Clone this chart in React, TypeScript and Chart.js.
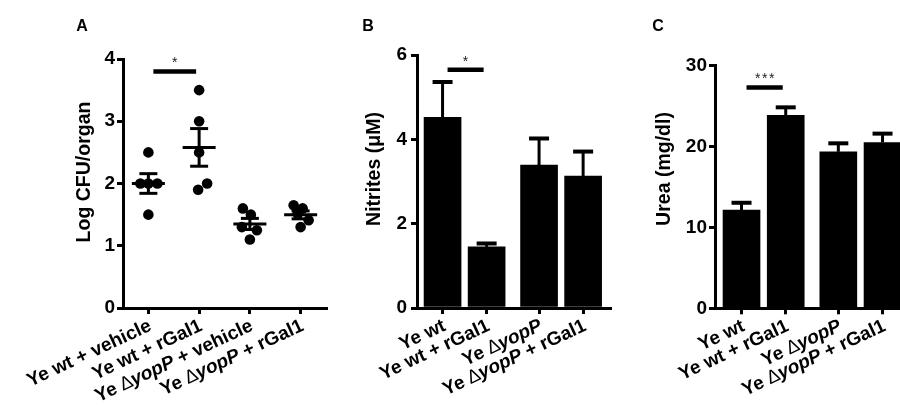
import React, { useEffect, useRef } from 'react';
import { Chart, registerables } from 'chart.js';

Chart.register(...registerables);

const FONT = "'Liberation Sans', Arial, Helvetica, sans-serif";

// ---------- Panel A : Log CFU/organ (individual animals) ----------
const cfuCategories = ['Ye wt + vehicle', 'Ye wt + rGal1', 'Ye \u2206yopP + vehicle', 'Ye \u2206yopP + rGal1'];
const cfuWtVehicle = [2.5, 2.0, 2.0, 2.0, 1.5];
const cfuWtRGal1 = [3.5, 3.0, 2.5, 2.0, 1.9];
const cfuYopPVehicle = [1.6, 1.5, 1.3, 1.25, 1.1];
const cfuYopPRGal1 = [1.65, 1.6, 1.52, 1.41, 1.3];
const cfuTicks = [0, 1, 2, 3, 4];
const cfuSignificance = { from: 0, to: 1, value: 3.8, label: '*' };

// ---------- Panel B : Nitrites ----------
const nitriteCategories = ['Ye wt', 'Ye wt + rGal1', 'Ye \u2206yopP', 'Ye \u2206yopP + rGal1'];
const nitriteMeans = [4.52, 1.45, 3.39, 3.13];
const nitriteErrors = [0.84, 0.08, 0.63, 0.58];
const nitriteTicks = [0, 2, 4, 6];
const nitriteSignificance = { from: 0, to: 1, value: 5.65, label: '*' };

// ---------- Panel C : Urea ----------
const ureaCategories = ['Ye wt', 'Ye wt + rGal1', 'Ye \u2206yopP', 'Ye \u2206yopP + rGal1'];
const ureaMeans = [12.15, 23.85, 19.35, 20.5];
const ureaErrors = [0.9, 1.0, 1.05, 1.1];
const ureaTicks = [0, 10, 20, 30];
const ureaSignificance = { from: 0, to: 1, value: 27.3, label: '***' };

// ---------- layout (not data) ----------
const dotJitterPx = [
  [0, -8, 0, 9, 0],
  [0, 0, 0, 8, -1],
  [-7, 1, -8, 7, 0],
  [-7, 2, -3, 8, 0],
];
const evenSlots = [0, 1, 2, 3];
const groupedSlots = [0, 1, 2.19, 3.19];

const TICK_SIZE = 19;
const LABEL_SIZE = 19;
const TITLE_SIZE = 19.5;
const LABEL_ANGLE = 25;

type Sig = { from: number; to: number; value: number; label: string };
type Panel = {
  kind: 'scatter' | 'bar';
  canvasLeft: number;
  canvasWidth: number;
  chartLeft: number;
  chartRight: number;
  chartTop: number;
  chartBottom: number;
  xMin: number;
  xMax: number;
  slots: number[];
  yMax: number;
  yTicks: number[];
  tickPad: number;
  categories: string[];
  groups?: number[][];
  means?: number[];
  errors?: number[];
  sig: Sig;
  title: string;
  titleX: number;
  titleY: number;
  letter: string;
  letterX: number;
  letterY: number;
};

const panels: Panel[] = [
  {
    kind: 'scatter', canvasLeft: 0, canvasWidth: 345,
    chartLeft: 123, chartRight: 326, chartTop: 59, chartBottom: 308,
    xMin: -0.5, xMax: 3.5, slots: evenSlots,
    yMax: 4, yTicks: cfuTicks, tickPad: 2,
    categories: cfuCategories,
    groups: [cfuWtVehicle, cfuWtRGal1, cfuYopPVehicle, cfuYopPRGal1],
    sig: cfuSignificance,
    title: 'Log CFU/organ', titleX: 85, titleY: 172,
    letter: 'A', letterX: 82, letterY: 27,
  },
  {
    kind: 'bar', canvasLeft: 340, canvasWidth: 290,
    chartLeft: 417, chartRight: 610, chartTop: 55, chartBottom: 308,
    xMin: -0.58, xMax: 3.8, slots: groupedSlots,
    yMax: 6, yTicks: nitriteTicks, tickPad: 4,
    categories: nitriteCategories,
    means: nitriteMeans, errors: nitriteErrors,
    sig: nitriteSignificance,
    title: 'Nitrites (\u03bcM)', titleX: 375, titleY: 169,
    letter: 'B', letterX: 368, letterY: 27,
  },
  {
    kind: 'bar', canvasLeft: 612, canvasWidth: 310,
    chartLeft: 715, chartRight: 909.5, chartTop: 65.7, chartBottom: 308.3,
    xMin: -0.6, xMax: 3.8, slots: groupedSlots,
    yMax: 30, yTicks: ureaTicks, tickPad: 2,
    categories: ureaCategories,
    means: ureaMeans, errors: ureaErrors,
    sig: ureaSignificance,
    title: 'Urea (mg/dl)', titleX: 665, titleY: 169,
    letter: 'C', letterX: 658, letterY: 27,
  },
];

function drawRichLabel(ctx: CanvasRenderingContext2D, text: string, x: number, y: number) {
  const parts = text.split(/(\u2206|yopP)/).filter((s) => s.length > 0);
  const fonts = parts.map((s) =>
    s === 'yopP'
      ? `italic bold ${LABEL_SIZE}px ${FONT}`
      : s === '\u2206'
      ? `${LABEL_SIZE}px ${FONT}`
      : `bold ${LABEL_SIZE}px ${FONT}`
  );
  let total = 0;
  const widths = parts.map((s, i) => {
    ctx.font = fonts[i];
    const w = ctx.measureText(s).width;
    total += w;
    return w;
  });
  ctx.save();
  ctx.translate(x, y);
  ctx.rotate((-LABEL_ANGLE * Math.PI) / 180);
  ctx.textAlign = 'left';
  ctx.textBaseline = 'middle';
  ctx.fillStyle = '#000';
  let cx = -total;
  parts.forEach((s, i) => {
    ctx.font = fonts[i];
    ctx.fillText(s, cx, 0);
    cx += widths[i];
  });
  ctx.restore();
}

function makePanel(canvas: HTMLCanvasElement, p: Panel): Chart {
  const L = p.canvasLeft;
  const yAxisWidth = p.chartLeft - L;
  const xAxisHeight = 410 - p.chartBottom;
  const unitPx = (p.chartRight - p.chartLeft) / (p.xMax - p.xMin);

  const datasets: any[] =
    p.kind === 'scatter'
      ? (p.groups as number[][]).map((vals, g) => ({
          type: 'scatter',
          data: vals.map((v, j) => ({ x: p.slots[g] + dotJitterPx[g][j] / unitPx, y: v })),
          pointRadius: 5.3,
          pointHoverRadius: 5.3,
          pointBorderWidth: 0,
          backgroundColor: '#000',
          borderColor: '#000',
        }))
      : [
          {
            type: 'bar',
            data: (p.means as number[]).map((v, i) => ({ x: p.slots[i], y: v })),
            backgroundColor: '#000',
            borderWidth: 0,
            barThickness: 37,
          },
        ];

  const line = (ctx: CanvasRenderingContext2D, x1: number, y1: number, x2: number, y2: number) => {
    ctx.beginPath();
    ctx.moveTo(x1, y1);
    ctx.lineTo(x2, y2);
    ctx.stroke();
  };

  const overlay = {
    id: 'overlay',
    afterDatasetsDraw(chart: any) {
      const ctx: CanvasRenderingContext2D = chart.ctx;
      const xs = chart.scales.x;
      const ys = chart.scales.y;
      ctx.save();
      ctx.strokeStyle = '#000';
      ctx.lineCap = 'butt';
      if (p.kind === 'scatter') {
        (p.groups as number[][]).forEach((vals, g) => {
          const n = vals.length;
          const mean = vals.reduce((a, b) => a + b, 0) / n;
          const sd = Math.sqrt(vals.reduce((a, b) => a + (b - mean) ** 2, 0) / (n - 1));
          const sem = sd / Math.sqrt(n);
          const cx = xs.getPixelForValue(p.slots[g]);
          const ym = ys.getPixelForValue(mean);
          const yh = ys.getPixelForValue(mean + sem);
          const yl = ys.getPixelForValue(mean - sem);
          ctx.lineWidth = 3;
          line(ctx, cx - 16.5, ym, cx + 16.5, ym);
          line(ctx, cx - 9, yh, cx + 9, yh);
          line(ctx, cx - 9, yl, cx + 9, yl);
          line(ctx, cx, yh, cx, yl);
        });
      } else {
        const meta = chart.getDatasetMeta(0);
        (p.means as number[]).forEach((v, i) => {
          const cx = meta.data[i].x;
          const yt = ys.getPixelForValue(v);
          const ye = ys.getPixelForValue(v + (p.errors as number[])[i]);
          ctx.lineWidth = 3;
          line(ctx, cx, yt, cx, ye);
          ctx.lineWidth = 4;
          line(ctx, cx - 10, ye, cx + 10, ye);
        });
      }
      const s = p.sig;
      const x1 = xs.getPixelForValue(p.slots[s.from]) + 5;
      const x2 = xs.getPixelForValue(p.slots[s.to]) - 3;
      const sy = ys.getPixelForValue(s.value);
      ctx.lineWidth = 4.5;
      line(ctx, x1, sy, x2, sy);
      ctx.fillStyle = '#222';
      ctx.font = `14px ${FONT}`;
      ctx.textAlign = 'center';
      ctx.textBaseline = 'middle';
      const chars = s.label.split('');
      const mid = (x1 + x2) / 2;
      chars.forEach((c, k) => ctx.fillText(c, mid + (k - (chars.length - 1) / 2) * 7, sy - 8));
      ctx.restore();
    },
    afterDraw(chart: any) {
      const ctx: CanvasRenderingContext2D = chart.ctx;
      const xs = chart.scales.x;
      p.categories.forEach((lab, i) => {
        const x = xs.getPixelForValue(p.slots[i]);
        drawRichLabel(ctx, lab, x + 2, p.chartBottom + 17);
      });
      ctx.save();
      ctx.fillStyle = '#000';
      ctx.translate(p.titleX - L, p.titleY);
      ctx.rotate(-Math.PI / 2);
      ctx.font = `bold ${TITLE_SIZE}px ${FONT}`;
      ctx.textAlign = 'center';
      ctx.textBaseline = 'middle';
      ctx.fillText(p.title, 0, 0);
      ctx.restore();
      ctx.save();
      ctx.fillStyle = '#000';
      ctx.font = `bold 16px ${FONT}`;
      ctx.textAlign = 'center';
      ctx.textBaseline = 'middle';
      ctx.fillText(p.letter, p.letterX - L, p.letterY);
      ctx.restore();
    },
  };

  return new Chart(canvas, {
    type: p.kind === 'scatter' ? 'scatter' : 'bar',
    data: { datasets },
    options: {
      responsive: false,
      animation: false,
      events: [],
      layout: {
        padding: { left: 0, right: p.canvasWidth - (p.chartRight - L), top: p.chartTop, bottom: 0 },
      },
      plugins: { legend: { display: false }, tooltip: { enabled: false } },
      scales: {
        x: {
          type: 'linear',
          min: p.xMin,
          max: p.xMax,
          offset: false,
          afterBuildTicks: (sc: any) => {
            sc.ticks = p.slots.map((v) => ({ value: v }));
          },
          afterFit: (sc: any) => {
            sc.height = xAxisHeight;
          },
          ticks: { display: false },
          grid: {
            display: true,
            offset: false,
            drawOnChartArea: false,
            drawTicks: true,
            tickLength: 6,
            lineWidth: 3,
            color: '#000',
          },
          border: { display: true, width: 3, color: '#000' },
        },
        y: {
          type: 'linear',
          min: 0,
          max: p.yMax,
          afterBuildTicks: (sc: any) => {
            sc.ticks = p.yTicks.map((v) => ({ value: v }));
          },
          afterFit: (sc: any) => {
            sc.width = yAxisWidth;
          },
          ticks: {
            color: '#000',
            padding: p.tickPad,
            font: { family: FONT, size: TICK_SIZE, weight: 'bold' },
          },
          grid: {
            display: true,
            drawOnChartArea: false,
            drawTicks: true,
            tickLength: 6,
            lineWidth: 3,
            color: '#000',
          },
          border: { display: true, width: 3, color: '#000' },
        },
      },
    } as any,
    plugins: [overlay],
  });
}

export default function App() {
  const refA = useRef<HTMLCanvasElement>(null);
  const refB = useRef<HTMLCanvasElement>(null);
  const refC = useRef<HTMLCanvasElement>(null);

  useEffect(() => {
    const refs = [refA, refB, refC];
    const charts = panels.map((p, i) => makePanel(refs[i].current as HTMLCanvasElement, p));
    return () => charts.forEach((c) => c.destroy());
  }, []);

  const refs = [refA, refB, refC];
  return (
    <div
      style={{
        position: 'absolute',
        left: 0,
        top: 0,
        width: 900,
        height: 410,
        overflow: 'hidden',
        background: '#fff',
      }}
    >
      {panels.map((p, i) => (
        <canvas
          key={p.letter}
          ref={refs[i]}
          width={p.canvasWidth}
          height={410}
          style={{ position: 'absolute', left: p.canvasLeft, top: 0, width: p.canvasWidth, height: 410 }}
        />
      ))}
    </div>
  );
}
